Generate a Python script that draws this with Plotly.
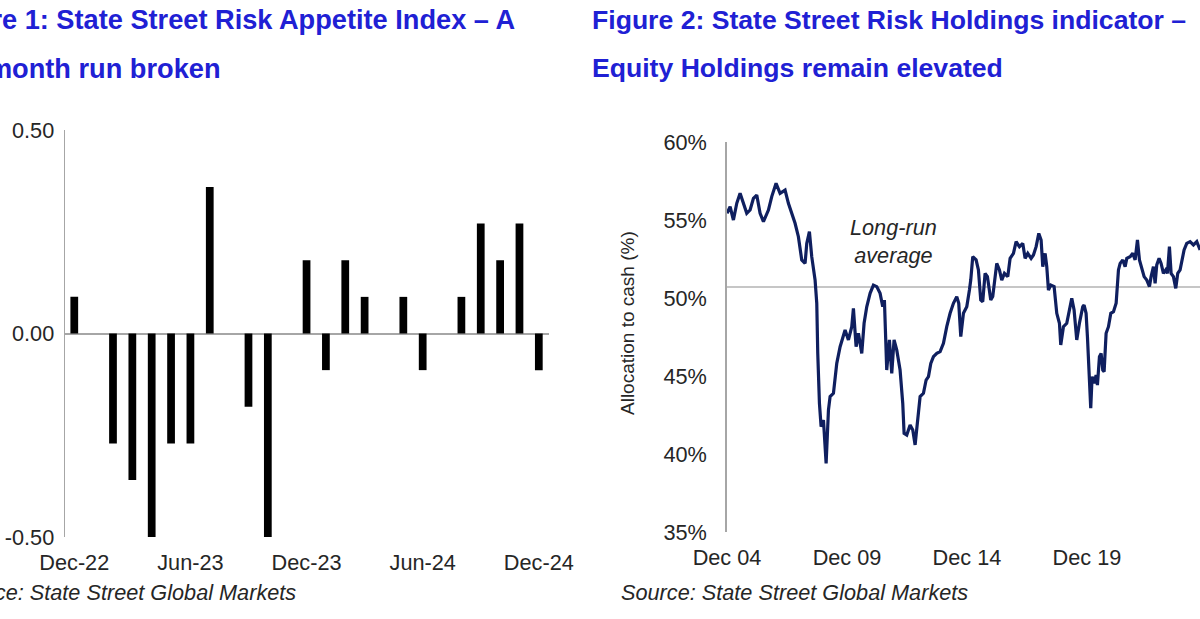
import plotly.graph_objects as go
import pandas as pd

W, H = 1200, 619

# ---------------- Figure 1 data ----------------
months = ["Dec-22", "Jan-23", "Feb-23", "Mar-23", "Apr-23", "May-23", "Jun-23",
          "Jul-23", "Aug-23", "Sep-23", "Oct-23", "Nov-23", "Dec-23", "Jan-24",
          "Feb-24", "Mar-24", "Apr-24", "May-24", "Jun-24", "Jul-24", "Aug-24",
          "Sep-24", "Oct-24", "Nov-24", "Dec-24"]
risk_appetite = [0.09, 0.0, -0.27, -0.36, -0.50, -0.27, -0.27,
                 0.36, 0.0, -0.18, -0.50, 0.0, 0.18, -0.09,
                 0.18, 0.09, 0.0, 0.09, -0.09, 0.0, 0.09,
                 0.27, 0.18, 0.27, -0.09]
month_ticks = ["Dec-22", "Jun-23", "Dec-23", "Jun-24", "Dec-24"]
ra_ticks = [-0.5, 0.0, 0.5]
ra_tick_text = ["-0.50", "0.00", "0.50"]

# ---------------- Figure 2 data ----------------
years = [
    2004.917, 2005.045, 2005.183, 2005.322, 2005.461, 2005.600, 2005.739, 2005.878,
    2006.017, 2006.156, 2006.295, 2006.434, 2006.642, 2006.781, 2006.961,
    2007.128, 2007.336, 2007.475, 2007.614, 2007.753, 2007.892,
    2008.031, 2008.170, 2008.240, 2008.350, 2008.447, 2008.586, 2008.656, 2008.697,
    2008.767, 2008.836, 2008.934,
    2009.045, 2009.142, 2009.211, 2009.350, 2009.489, 2009.628, 2009.836, 2009.975,
    2010.114, 2010.183, 2010.295, 2010.392, 2010.531, 2010.628, 2010.739, 2010.878,
    2011.017, 2011.156, 2011.295, 2011.406, 2011.475, 2011.572, 2011.684, 2011.781,
    2011.878, 2011.989,
    2012.128, 2012.239, 2012.295, 2012.406, 2012.545, 2012.656, 2012.753, 2012.850, 2012.961,
    2013.100, 2013.211, 2013.309, 2013.406, 2013.517, 2013.656, 2013.795, 2013.934,
    2014.072, 2014.211, 2014.350, 2014.489, 2014.572, 2014.656, 2014.767, 2014.906, 2015.017,
    2015.072, 2015.156, 2015.295, 2015.392, 2015.489, 2015.572, 2015.670, 2015.767,
    2015.906, 2015.989,
    2016.086, 2016.156, 2016.267, 2016.364, 2016.475, 2016.614, 2016.711, 2016.850, 2016.961,
    2017.100, 2017.239, 2017.336, 2017.447, 2017.586, 2017.684, 2017.795, 2017.906,
    2018.003, 2018.072, 2018.170, 2018.239, 2018.309, 2018.406, 2018.545, 2018.656,
    2018.767, 2018.822, 2018.934,
    2019.072, 2019.184, 2019.281, 2019.378, 2019.489, 2019.600, 2019.739,
    2019.795, 2019.878, 2019.934, 2020.017, 2020.072, 2020.128, 2020.211, 2020.295,
    2020.350, 2020.434, 2020.503, 2020.572, 2020.628, 2020.711, 2020.809, 2020.906,
    2021.017, 2021.128, 2021.225, 2021.295, 2021.406, 2021.503, 2021.572, 2021.711,
    2021.822, 2021.920,
    2022.017, 2022.100, 2022.197, 2022.295, 2022.406, 2022.517, 2022.586, 2022.684,
    2022.753, 2022.822, 2022.920,
    2023.003, 2023.100, 2023.197, 2023.267, 2023.350, 2023.420, 2023.517, 2023.614,
    2023.697, 2023.795, 2023.864, 2023.961,
    2024.072, 2024.211, 2024.350, 2024.489, 2024.628]
cash_alloc = [
    55.43, 55.85, 55.00, 56.07, 56.71, 56.07, 55.43, 55.64,
    56.39, 56.60, 55.43, 54.89, 55.64, 56.50, 57.35,
    56.71, 56.92, 56.07, 55.43, 54.79, 53.93,
    52.44, 52.22, 53.50, 54.25, 52.65, 51.15, 49.66, 46.45,
    43.25, 41.75, 42.18,
    39.40, 42.82, 43.68, 43.89, 45.81, 46.88, 47.95, 47.31,
    48.16, 49.34, 46.88, 47.74, 46.45, 48.38, 49.44, 50.30,
    50.83, 50.73, 50.30, 49.44, 49.87, 45.38, 47.31, 45.17,
    47.31, 46.67,
    45.38, 43.25, 41.33, 41.22, 41.86, 41.54, 40.58, 41.97, 43.68,
    43.89, 44.74, 44.96, 45.81, 46.24, 46.45, 46.56, 47.10,
    48.16, 49.02, 49.66, 50.09, 49.66, 47.52, 49.02, 49.44, 50.51,
    51.15, 52.65, 52.44, 51.80, 49.87, 49.76, 51.58, 51.37,
    49.87, 50.09,
    51.37, 52.22, 51.80, 51.15, 51.58, 51.37, 52.54, 52.86, 53.61,
    53.29, 53.50, 52.54, 52.86, 52.54, 52.76, 53.29, 54.14,
    53.72, 52.01, 52.86, 52.01, 50.51, 50.83, 50.73, 49.02,
    48.38, 46.99, 48.16,
    48.38, 49.23, 49.98, 49.23, 47.31, 48.38, 49.44,
    49.55, 49.02, 47.52, 44.96, 42.93, 44.96, 44.53, 45.06,
    44.42, 46.24, 46.45, 45.38, 45.28, 47.74, 48.16, 49.02,
    49.12, 49.66, 51.80, 52.22, 52.44, 52.01, 52.54, 52.65,
    52.86, 52.44,
    53.72, 52.44, 51.80, 51.37, 51.15, 50.73, 51.37, 52.01,
    50.94, 52.12, 52.54,
    52.22, 51.58, 51.80, 51.58, 53.29, 51.58, 51.37, 50.62,
    51.58, 51.80, 52.33, 53.08,
    53.50, 53.61, 53.40, 53.61, 53.08]
long_run_average = 50.7
year_ticks = ["2004-12-01", "2009-12-01", "2014-12-01", "2019-12-01"]
year_tick_text = ["Dec 04", "Dec 09", "Dec 14", "Dec 19"]
cash_ticks = [35, 40, 45, 50, 55, 60]
cash_tick_text = ["35%", "40%", "45%", "50%", "55%", "60%"]

assert len(years) == len(cash_alloc)


def to_date(t):
    y = int(t)
    start = pd.Timestamp(year=y, month=1, day=1)
    end = pd.Timestamp(year=y + 1, month=1, day=1)
    return start + (end - start) * (t - y)


dates = [to_date(t) for t in years]

# ---------------- styling ----------------
FONT = "Liberation Sans, Arial, sans-serif"
TXT = "#262626"
BLUE = "#2020d4"
NAVY = "#0f1f5f"
AXIS = "#a6a6a6"


def px_x(p):
    return p / W


def px_y(p):
    return 1 - p / H


fig = go.Figure()

fig.add_trace(go.Bar(
    x=months, y=risk_appetite, marker=dict(color="black", line=dict(width=0)),
    width=0.4, xaxis="x", yaxis="y", showlegend=False))

fig.add_trace(go.Scatter(
    x=dates, y=cash_alloc, mode="lines", line=dict(color=NAVY, width=3.2),
    xaxis="x2", yaxis="y2", showlegend=False))

fig.update_layout(
    width=W, height=H,
    margin=dict(l=0, r=0, t=0, b=0, pad=0, autoexpand=False),
    paper_bgcolor="white", plot_bgcolor="white",
    font=dict(family=FONT, size=21.7, color=TXT),
    xaxis=dict(domain=[px_x(64.6), px_x(548.5)], type="category",
               categoryorder="array", categoryarray=months,
               tickmode="array", tickvals=month_ticks, ticktext=month_ticks,
               showgrid=False, showline=False, zeroline=False, ticks="",
               ticklabelstandoff=10, anchor="y", automargin=False),
    yaxis=dict(domain=[px_y(537), px_y(130)], range=[-0.5, 0.5],
               tickmode="array", tickvals=ra_ticks, ticktext=ra_tick_text,
               showgrid=False, showline=True, linecolor=AXIS, linewidth=1,
               zeroline=True, zerolinecolor=AXIS, zerolinewidth=1.5,
               ticks="", ticklabelstandoff=5, anchor="x", automargin=False),
    xaxis2=dict(domain=[px_x(727), 1.0], type="date",
                range=["2004-12-01", "2024-08-16"],
                tickmode="array", tickvals=year_ticks, ticktext=year_tick_text,
                showgrid=False, showline=False, zeroline=False, ticks="",
                ticklabelstandoff=10, anchor="y2", automargin=False),
    yaxis2=dict(domain=[px_y(532), px_y(142)], range=[35, 60],
                tickmode="array", tickvals=cash_ticks, ticktext=cash_tick_text,
                showgrid=False, showline=True, linecolor=AXIS, linewidth=1.5,
                zeroline=False, ticks="", ticklabelstandoff=14, anchor="x2",
                automargin=False),
    shapes=[dict(type="line", xref="x2 domain", yref="y2", x0=0, x1=1,
                 y0=long_run_average, y1=long_run_average,
                 line=dict(color="#b3b3b3", width=1.5), layer="below")],
)

ann = []
# titles
ann.append(dict(text="<b>Figure 1: State Street Risk Appetite Index \u2013 A</b>",
                x=px_x(-68), y=px_y(20), font=dict(size=27.2, color=BLUE)))
ann.append(dict(text="<b>four-month run broken</b>",
                x=px_x(-76), y=px_y(68), font=dict(size=27.2, color=BLUE)))
ann.append(dict(text="<b>Figure 2: State Street Risk Holdings indicator \u2013</b>",
                x=px_x(590), y=px_y(20), font=dict(size=26.6, color=BLUE)))
ann.append(dict(text="<b>Equity Holdings remain elevated</b>",
                x=px_x(590), y=px_y(68), font=dict(size=26.6, color=BLUE)))
# sources
ann.append(dict(text="Source: State Street Global Markets",
                x=px_x(-53), y=px_y(592), font=dict(size=21.7, style="italic", color=TXT)))
ann.append(dict(text="Source: State Street Global Markets",
                x=px_x(619), y=px_y(592), font=dict(size=21.7, style="italic", color=TXT)))
for a in ann:
    a.update(xref="paper", yref="paper", xanchor="left", yanchor="middle",
             showarrow=False)

fig.update_layout(annotations=ann)
fig.add_annotation(text="Allocation to cash (%)", textangle=-90,
                   xref="paper", yref="paper", x=px_x(627), y=px_y(323),
                   xanchor="center", yanchor="middle", showarrow=False,
                   font=dict(size=19, color=TXT))
fig.add_annotation(text="<i>Long-run<br>average</i>",
                   xref="paper", yref="paper", x=px_x(893), y=px_y(241),
                   xanchor="center", yanchor="middle", showarrow=False,
                   font=dict(size=21.7, color=TXT))

fig.write_html("out.html")
